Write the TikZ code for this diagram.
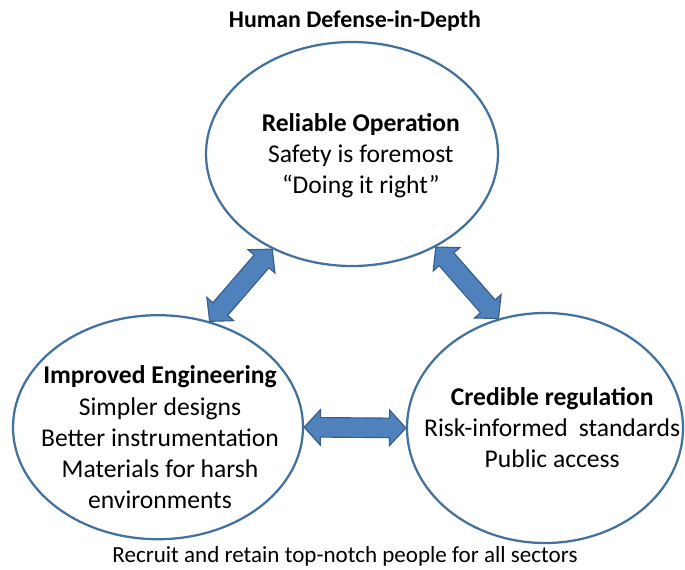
\documentclass[tikz,border=0pt]{standalone}
\usepackage{fontspec}
\setmainfont{Carlito}
\usepackage{tikz}
\usetikzlibrary{shapes.geometric,shapes.arrows,calc}
\definecolor{ringblue}{RGB}{65,113,156}
\definecolor{arrowfill}{RGB}{79,129,189}
\definecolor{arrowline}{RGB}{56,93,138}
\tikzset{
  ring/.style={draw=ringblue, line width=1.6pt, ellipse, inner sep=0pt},
  ringtext/.style={align=center, inner sep=0pt, font=\fontsize{18.2}{22}\selectfont},
  blockarrow/.style={double arrow, draw=arrowline, fill=arrowfill, line width=0.8pt,
    inner sep=0.23cm, double arrow head extend=0.2cm, double arrow tip angle=95}
}
% block arrow between two points, turned along the line joining them
\newcommand\linkarrow[3]{%
  \path let \p1=($(#3)-(#2)$), \n1={atan2(\y1,\x1)}, \n2={veclen(\x1,\y1)} in
    node[blockarrow, rotate=\n1, minimum height=\n2] (#1) at ($(#2)!0.5!(#3)$) {};}

\begin{document}
\begin{tikzpicture}
\useasboundingbox (0,0) rectangle (17.125,-14.225);
\node[font=\fontsize{17}{20}\selectfont\bfseries] (title) at (8.875,-0.52) {Human Defense-in-Depth};
% the three rings
\node[ring, minimum width=7.3cm, minimum height=5.6cm] (oper) at (8.8,-3.85) {};
\node[ring, minimum width=7.25cm, minimum height=5.6cm] (engr) at (3.95,-10.68) {};
\node[ring, minimum width=6.9cm, minimum height=5.75cm] (regl) at (13.625,-10.7) {};
\node[ringtext] (oper-text) at ($(oper)+(0.22,-0.05)$)
  {\textbf{Reliable Operation}\\Safety is foremost\\“Doing it right”};
\node[ringtext] (engr-text) at ($(engr)+(0.05,-0.25)$)
  {\textbf{Improved Engineering}\\[1pt]Simpler designs\\Better instrumentation\\Materials for harsh\\environments};
\node[ringtext] (regl-text) at ($(regl)+(0.18,0)$)
  {\textbf{Credible regulation}\\Risk-informed\hspace{0.2em} standards\\Public access};
\node[font=\fontsize{16.4}{19}\selectfont] (people) at (8.625,-13.9)
  {Recruit and retain top-notch people for all sectors};
% links between the rings
\linkarrow{openg}{engr.64}{oper.230}
\linkarrow{opreg}{oper.312}{regl.113}
\linkarrow{engreg}{engr.east}{regl.west}
\end{tikzpicture}
\end{document}
